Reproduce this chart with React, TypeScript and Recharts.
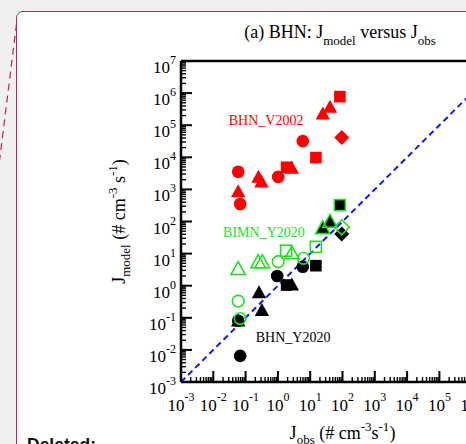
import React from "react";
import {
  ReferenceDot,
  ReferenceLine,
  Scatter,
  ScatterChart,
  XAxis,
  YAxis,
} from "recharts";

// J_obs (x) vs J_model (y), # cm^-3 s^-1
const bhnV2002Circles = [
  { obs: 0.059, model: 3550 },
  { obs: 0.068, model: 350 },
  { obs: 1.02, model: 2450 },
  { obs: 5.9, model: 32000 },
];
const bhnV2002Triangles = [
  { obs: 0.059, model: 850 },
  { obs: 0.25, model: 2400 },
  { obs: 0.31, model: 1700 },
  { obs: 2.7, model: 4600 },
  { obs: 24.5, model: 224000 },
  { obs: 41, model: 363000 },
];
const bhnV2002Squares = [
  { obs: 1.86, model: 4900 },
  { obs: 15, model: 9800 },
  { obs: 83, model: 776000 },
];
const bhnV2002Diamonds = [{ obs: 95, model: 41700 }];

const bhnY2020Circles = [
  { obs: 0.059, model: 0.081 },
  { obs: 0.068, model: 0.0065 },
  { obs: 0.95, model: 2.0 },
  { obs: 5.9, model: 3.9 },
];
const bhnY2020Triangles = [
  { obs: 0.059, model: 0.08 },
  { obs: 0.26, model: 0.6 },
  { obs: 0.32, model: 0.17 },
  { obs: 2.7, model: 1.05 },
  { obs: 24.5, model: 62 },
  { obs: 41, model: 98 },
];
const bhnY2020Squares = [
  { obs: 1.86, model: 1.05 },
  { obs: 15, model: 4.2 },
  { obs: 83, model: 324 },
];
const bhnY2020Diamonds = [{ obs: 95, model: 41 }];

const bimnY2020Circles = [
  { obs: 0.059, model: 0.33 },
  { obs: 0.068, model: 0.095 },
  { obs: 1.02, model: 5.6 },
  { obs: 6.2, model: 7.1 },
];
const bimnY2020Triangles = [
  { obs: 0.059, model: 3.3 },
  { obs: 0.245, model: 5.4 },
  { obs: 0.33, model: 5.4 },
  { obs: 2.7, model: 10.2 },
  { obs: 24.5, model: 62 },
  { obs: 41, model: 98 },
];
const bimnY2020Squares = [
  { obs: 1.8, model: 12.3 },
  { obs: 15, model: 16.2 },
  { obs: 83, model: 324 },
];
const bimnY2020Diamonds = [{ obs: 95, model: 66 }];

const oneToOne = [
  { x: 1e-3, y: 1e-3 },
  { x: 1e7, y: 1e7 },
];

const groupLabels = [
  { text: "BHN_V2002", obs: 0.43, model: 145000, color: "#ff0000" },
  { text: "BIMN_Y2020", obs: 0.37, model: 47, color: "#1fe01f" },
  { text: "BHN_Y2020", obs: 2.95, model: 0.025, color: "#000000" },
];

const decades = [-3, -2, -1, 0, 1, 2, 3, 4, 5, 6];
const minorSteps = [1, 2, 3, 4, 5, 6, 7, 8, 9];
const axisTicks = [
  ...decades.flatMap((d) => minorSteps.map((m) => +(m * 10 ** d).toPrecision(3))),
  1e7,
];
const domain: [number, number] = [1e-3, 1e7];

const SERIF = "'Liberation Serif', 'Times New Roman', serif";
const RED = "#ff0000";
const GREEN = "#1fe01f";

const exponentOf = (v: number) => Math.round(Math.log10(v));
const isMajor = (v: number) => Math.abs(Math.log10(v) - exponentOf(v)) < 1e-9;

const BottomTick = ({ x, y, payload }: any) => {
  const major = isMajor(payload.value);
  return (
    <g>
      <line x1={x} x2={x} y1={y} y2={y - (major ? 11 : 5)} stroke="#000" strokeWidth={major ? 2 : 1.4} />
      {major && (
        <text x={x} y={y + 29} textAnchor="middle" fontFamily={SERIF} fontSize={17} fill="#000">
          10
          <tspan dy={-10} fontSize={12}>
            {exponentOf(payload.value)}
          </tspan>
        </text>
      )}
    </g>
  );
};

const TopTick = ({ x, y, payload }: any) => {
  const major = isMajor(payload.value);
  return <line x1={x} x2={x} y1={y} y2={y + (major ? 11 : 5)} stroke="#000" strokeWidth={major ? 2 : 1.4} />;
};

const LeftTick = ({ x, y, payload }: any) => {
  const major = isMajor(payload.value);
  return (
    <g>
      <line x1={x} x2={x + (major ? 11 : 5)} y1={y} y2={y} stroke="#000" strokeWidth={major ? 2 : 1.4} />
      {major && (
        <text x={x - 5} y={y + 12} textAnchor="end" fontFamily={SERIF} fontSize={17} fill="#000">
          10
          <tspan dy={-9} fontSize={12}>
            {exponentOf(payload.value)}
          </tspan>
        </text>
      )}
    </g>
  );
};

const RightTick = ({ x, y, payload }: any) => {
  const major = isMajor(payload.value);
  return <line x1={x} x2={x - (major ? 11 : 5)} y1={y} y2={y} stroke="#000" strokeWidth={major ? 2 : 1.4} />;
};

type Kind = "circle" | "triangle" | "square" | "diamond";

const marker = (kind: Kind, color: string, open = false) => (props: any) => {
  const { cx, cy } = props;
  const paint = open
    ? { fill: "none", stroke: color, strokeWidth: 1.6 }
    : { fill: color, stroke: "none" };
  if (kind === "circle") return <circle cx={cx} cy={cy} r={open ? 5.8 : 6.3} {...paint} />;
  if (kind === "square") {
    const h = open ? 5.5 : 5.8;
    return <rect x={cx - h} y={cy - h} width={2 * h} height={2 * h} {...paint} />;
  }
  if (kind === "diamond") {
    const h = 7.5;
    return <polygon points={`${cx},${cy - h} ${cx + h},${cy} ${cx},${cy + h} ${cx - h},${cy}`} {...paint} />;
  }
  return (
    <polygon
      points={`${cx},${cy - 7.5} ${cx + 7.2},${cy + 5.5} ${cx - 7.2},${cy + 5.5}`}
      {...paint}
    />
  );
};

const XTitle = ({ viewBox }: any) => {
  const cx = viewBox.x + viewBox.width / 2;
  return (
    <text x={cx} y={439} textAnchor="middle" fontFamily={SERIF} fontSize={18} fill="#000">
      J
      <tspan dy={5} fontSize={13}>obs</tspan>
      <tspan dy={-5}> (# cm</tspan>
      <tspan dy={-8} fontSize={13}>-3</tspan>
      <tspan dy={8}>s</tspan>
      <tspan dy={-8} fontSize={13}>-1</tspan>
      <tspan dy={8}>)</tspan>
    </text>
  );
};

const YTitle = ({ viewBox }: any) => {
  const cy = viewBox.y + viewBox.height / 2;
  const cx = 125;
  return (
    <text
      x={cx}
      y={cy}
      transform={`rotate(-90, ${cx}, ${cy})`}
      textAnchor="middle"
      fontFamily={SERIF}
      fontSize={18}
      fill="#000"
    >
      J
      <tspan dy={5} fontSize={13}>model</tspan>
      <tspan dy={-5}> (# cm</tspan>
      <tspan dy={-8} fontSize={13}>-3</tspan>
      <tspan dy={8}> s</tspan>
      <tspan dy={-8} fontSize={13}>-1</tspan>
      <tspan dy={8}>)</tspan>
    </text>
  );
};

const Title = ({ viewBox }: any) => {
  const cx = viewBox.x + viewBox.width / 2 - 2.5;
  return (
    <text x={cx} y={38} textAnchor="middle" fontFamily={SERIF} fontSize={18} fill="#000">
      (a) BHN: J
      <tspan dy={7} fontSize={13}>model</tspan>
      <tspan dy={-7}> versus J</tspan>
      <tspan dy={7} fontSize={13}>obs</tspan>
    </text>
  );
};

const series = [
  { data: bhnV2002Circles, shape: marker("circle", RED) },
  { data: bhnV2002Triangles, shape: marker("triangle", RED) },
  { data: bhnV2002Squares, shape: marker("square", RED) },
  { data: bhnV2002Diamonds, shape: marker("diamond", RED) },
  { data: bhnY2020Circles, shape: marker("circle", "#000") },
  { data: bhnY2020Triangles, shape: marker("triangle", "#000") },
  { data: bhnY2020Squares, shape: marker("square", "#000") },
  { data: bhnY2020Diamonds, shape: marker("diamond", "#000") },
  { data: bimnY2020Circles, shape: marker("circle", GREEN, true) },
  { data: bimnY2020Triangles, shape: marker("triangle", GREEN, true) },
  { data: bimnY2020Squares, shape: marker("square", GREEN, true) },
  { data: bimnY2020Diamonds, shape: marker("diamond", GREEN, true) },
];

export default function App() {
  return (
    <div
      style={{
        position: "fixed",
        left: 0,
        top: 0,
        width: 466,
        height: 444,
        overflow: "hidden",
        background: "#f0f0f0",
      }}
    >
      <div
        style={{
          position: "absolute",
          left: 16,
          top: 11,
          width: 600,
          height: 600,
          border: "1.5px solid #c21f4a",
          borderRadius: 7,
          background: "#fff",
        }}
      />
      <div style={{ position: "absolute", left: 0, top: 0 }}>
        <ScatterChart width={560} height={444} margin={{ top: 51, right: 46, bottom: 22, left: 121 }}>
          <XAxis
            xAxisId="b"
            dataKey="obs"
            type="number"
            scale="log"
            domain={domain}
            allowDataOverflow
            ticks={axisTicks}
            interval={0}
            tickSize={0}
            tickMargin={0}
            tickLine={false}
            height={40}
            axisLine={{ stroke: "#000", strokeWidth: 2.5 }}
            tick={(p: any) => <BottomTick {...p} />}
            label={{ content: (p: any) => <XTitle {...p} /> }}
          />
          <XAxis
            xAxisId="t"
            orientation="top"
            type="number"
            scale="log"
            domain={domain}
            allowDataOverflow
            ticks={axisTicks}
            interval={0}
            tickSize={0}
            tickMargin={0}
            tickLine={false}
            height={10}
            axisLine={{ stroke: "#000", strokeWidth: 2.5 }}
            tick={(p: any) => <TopTick {...p} />}
            label={{ content: (p: any) => <Title {...p} /> }}
          />
          <YAxis
            yAxisId="l"
            dataKey="model"
            type="number"
            scale="log"
            domain={domain}
            allowDataOverflow
            ticks={axisTicks}
            interval={0}
            tickSize={0}
            tickMargin={0}
            tickLine={false}
            width={60}
            axisLine={{ stroke: "#000", strokeWidth: 2.5 }}
            tick={(p: any) => <LeftTick {...p} />}
            label={{ content: (p: any) => <YTitle {...p} /> }}
          />
          <YAxis
            yAxisId="r"
            orientation="right"
            type="number"
            scale="log"
            domain={domain}
            allowDataOverflow
            ticks={axisTicks}
            interval={0}
            tickSize={0}
            tickMargin={0}
            tickLine={false}
            width={10}
            axisLine={{ stroke: "#000", strokeWidth: 2.5 }}
            tick={(p: any) => <RightTick {...p} />}
          />
          <ReferenceLine
            xAxisId="b"
            yAxisId="l"
            segment={oneToOne}
            stroke="#1515ff"
            strokeWidth={2}
            strokeDasharray="6 4"
          />
          {series.map((s, i) => (
            <Scatter
              key={i}
              xAxisId="b"
              yAxisId="l"
              data={s.data}
              shape={s.shape}
              isAnimationActive={false}
            />
          ))}
          {groupLabels.map((g) => (
            <ReferenceDot
              key={g.text}
              xAxisId="b"
              yAxisId="l"
              x={g.obs}
              y={g.model}
              shape={(p: any) => (
                <text
                  x={p.cx}
                  y={p.cy}
                  textAnchor="middle"
                  dominantBaseline="central"
                  fontFamily={SERIF}
                  fontSize={14}
                  fill={g.color}
                >
                  {g.text}
                </text>
              )}
            />
          ))}
        </ScatterChart>
      </div>
      <svg
        width={466}
        height={444}
        style={{ position: "absolute", left: 0, top: 0, pointerEvents: "none" }}
      >
        <line x1={16.5} y1={24} x2={-1} y2={165} stroke="#c21f4a" strokeWidth={1.2} strokeDasharray="7 5" />
        <text x={27} y={451} fontFamily="'Liberation Sans', Arial, sans-serif" fontWeight="bold" fontSize={17.5} fill="#111">
          Deleted:
        </text>
      </svg>
    </div>
  );
}
